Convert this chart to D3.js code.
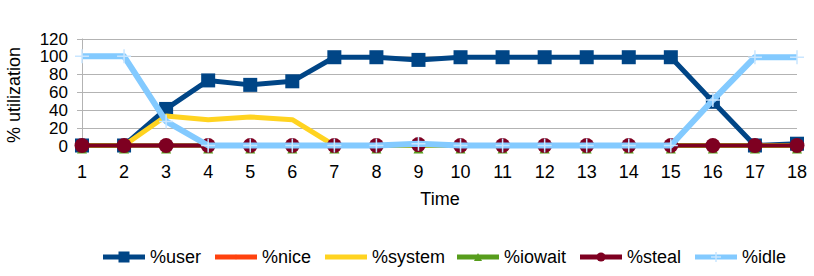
<!DOCTYPE html>
<html>
<head>
<meta charset="utf-8">
<script src="https://cdn.jsdelivr.net/npm/d3@7"></script>
<style>
  body { margin: 0; background: white; }
  text { font-family: "Liberation Sans", Arial, sans-serif; }
</style>
</head>
<body>
<div id="chart"></div>
<script>
var times = [1, 2, 3, 4, 5, 6, 7, 8, 9, 10, 11, 12, 13, 14, 15, 16, 17, 18];
var yTicks = [0, 20, 40, 60, 80, 100, 120];

var userVals   = [0, 0, 41, 73, 68, 72, 99, 99, 96, 99, 99, 99, 99, 99, 99, 49, 0, 2];
var niceVals   = [0, 0, 0, 0, 0, 0, 0, 0, 0, 0, 0, 0, 0, 0, 0, 0, 0, 0];
var systemVals = [0, 0, 33, 29, 32, 29, 0, 0, 0, 0, 0, 0, 0, 0, 0, 0, 0, 0];
var iowaitVals = [0, 0, 0, 0, 0, 0, 0, 0, 0, 0, 0, 0, 0, 0, 0, 0, 0, 0];
var stealVals  = [0, 0, 0, 0, 0, 0, 0, 0, 1, 0, 0, 0, 0, 0, 0, 0, 0, 0];
var idleVals   = [100, 100, 27, 0, 0, 0, 0, 0, 2, 0, 0, 0, 0, 0, 0, 51, 99, 99];

var seriesNames = ['%user', '%nice', '%system', '%iowait', '%steal', '%idle'];
var seriesVals = [userVals, niceVals, systemVals, iowaitVals, stealVals, idleVals];
var seriesColors = ['#004586', '#ff420e', '#ffd320', '#579d1c', '#7e0021', '#83caff'];
var seriesMarkers = ['square', 'diamond', 'none', 'triangle', 'circle', 'plus'];
var lineWidths = [5, 4, 5, 4, 4, 6];

var width = 814, height = 276;

var svg = d3.select('#chart')
    .append('svg')
    .attr('width', width)
    .attr('height', height);

var x = d3.scalePoint()
    .domain(times)
    .range([82, 797]);

var y = d3.scaleLinear()
    .domain([0, 120])
    .range([145.5, 38.5]);

// grid
svg.append('g')
    .selectAll('line')
    .data(yTicks)
    .enter().append('line')
    .attr('x1', 77)
    .attr('x2', 797)
    .attr('y1', function (d) { return Math.round(y(d)) + 0.5; })
    .attr('y2', function (d) { return Math.round(y(d)) + 0.5; })
    .style('stroke', '#b3b3b3')
    .style('stroke-width', 1);

svg.append('line')
    .attr('x1', 82.5).attr('x2', 82.5)
    .attr('y1', y(120)).attr('y2', y(0))
    .style('stroke', '#b3b3b3');

// y labels
svg.append('g')
    .selectAll('text')
    .data(yTicks)
    .enter().append('text')
    .attr('x', 68)
    .attr('y', function (d) { return y(d); })
    .attr('dy', '0.36em')
    .attr('text-anchor', 'end')
    .style('font-size', '17px')
    .style('fill', '#000')
    .text(function (d) { return d; });

// x labels
svg.append('g')
    .selectAll('text')
    .data(times)
    .enter().append('text')
    .attr('x', function (d) { return x(d); })
    .attr('y', 172)
    .attr('dy', '0.36em')
    .attr('text-anchor', 'middle')
    .style('font-size', '18px')
    .text(function (d) { return d; });

svg.append('text')
    .attr('x', 440)
    .attr('y', 199)
    .attr('dy', '0.36em')
    .attr('text-anchor', 'middle')
    .style('font-size', '18px')
    .text('Time');

svg.append('text')
    .attr('transform', 'translate(14,95) rotate(-90)')
    .attr('dy', '0.36em')
    .attr('text-anchor', 'middle')
    .style('font-size', '18px')
    .text('% utilization');

function drawMarker(g, kind, color, size) {
    var h = size / 2;
    if (kind == 'square') {
        g.append('rect')
            .attr('x', -h).attr('y', -h)
            .attr('width', size).attr('height', size)
            .style('fill', color);
    } else if (kind == 'circle') {
        g.append('circle')
            .attr('r', h)
            .style('fill', color);
    } else if (kind == 'triangle') {
        g.append('path')
            .attr('d', 'M0,' + (-h) + 'L' + h + ',' + h + 'L' + (-h) + ',' + h + 'Z')
            .style('fill', color);
    } else if (kind == 'diamond') {
        g.append('path')
            .attr('d', 'M0,' + (-h) + 'L' + h + ',0L0,' + h + 'L' + (-h) + ',0Z')
            .style('fill', color);
    } else if (kind == 'plus') {
        g.append('path')
            .attr('d', 'M0,' + (-h) + 'V' + h + 'M' + (-h) + ',0H' + h)
            .style('stroke', '#c9e6ff')
            .style('stroke-width', 1.5);
    }
}

var line = d3.line()
    .x(function (d, i) { return x(times[i]); })
    .y(function (d) { return y(d); });

var markerSizes = [14, 7, 0, 10, 15, 14];

seriesVals.forEach(function (vals, s) {
    svg.append('path')
        .datum(vals)
        .attr('d', line)
        .style('fill', 'none')
        .style('stroke', seriesColors[s])
        .style('stroke-width', lineWidths[s])
        .style('stroke-linejoin', 'round');

    if (seriesMarkers[s] != 'none') {
        var node = svg.selectAll('.m' + s)
            .data(vals)
            .enter().append('g')
            .attr('class', 'm' + s)
            .attr('transform', function (d, i) {
                var yy = y(d);
                if (seriesMarkers[s] == 'triangle') yy += 3;
                return 'translate(' + x(times[i]) + ',' + yy + ')';
            });
        node.each(function () {
            drawMarker(d3.select(this), seriesMarkers[s], seriesColors[s], markerSizes[s]);
        });
    }
});

// legend
var legendX = [103, 215, 325, 457, 580, 695];
var legend = svg.append('g')
    .selectAll('g')
    .data(seriesNames)
    .enter().append('g')
    .attr('transform', function (d, i) { return 'translate(' + legendX[i] + ',257)'; });

legend.append('line')
    .attr('x1', 0).attr('x2', 42)
    .attr('y1', 0).attr('y2', 0)
    .style('stroke', function (d, i) { return seriesColors[i]; })
    .style('stroke-width', 5);

legend.each(function (d, i) {
    if (seriesMarkers[i] == 'none') return;
    var g = d3.select(this).append('g').attr('transform', 'translate(21,0)');
    var sz = [11, 5, 0, 8, 9, 10][i];
    drawMarker(g, seriesMarkers[i], seriesColors[i], sz);
});

legend.append('text')
    .attr('x', 47)
    .attr('y', 0)
    .attr('dy', '0.36em')
    .style('font-size', '18px')
    .text(function (d) { return d; });
</script>
</body>
</html>
